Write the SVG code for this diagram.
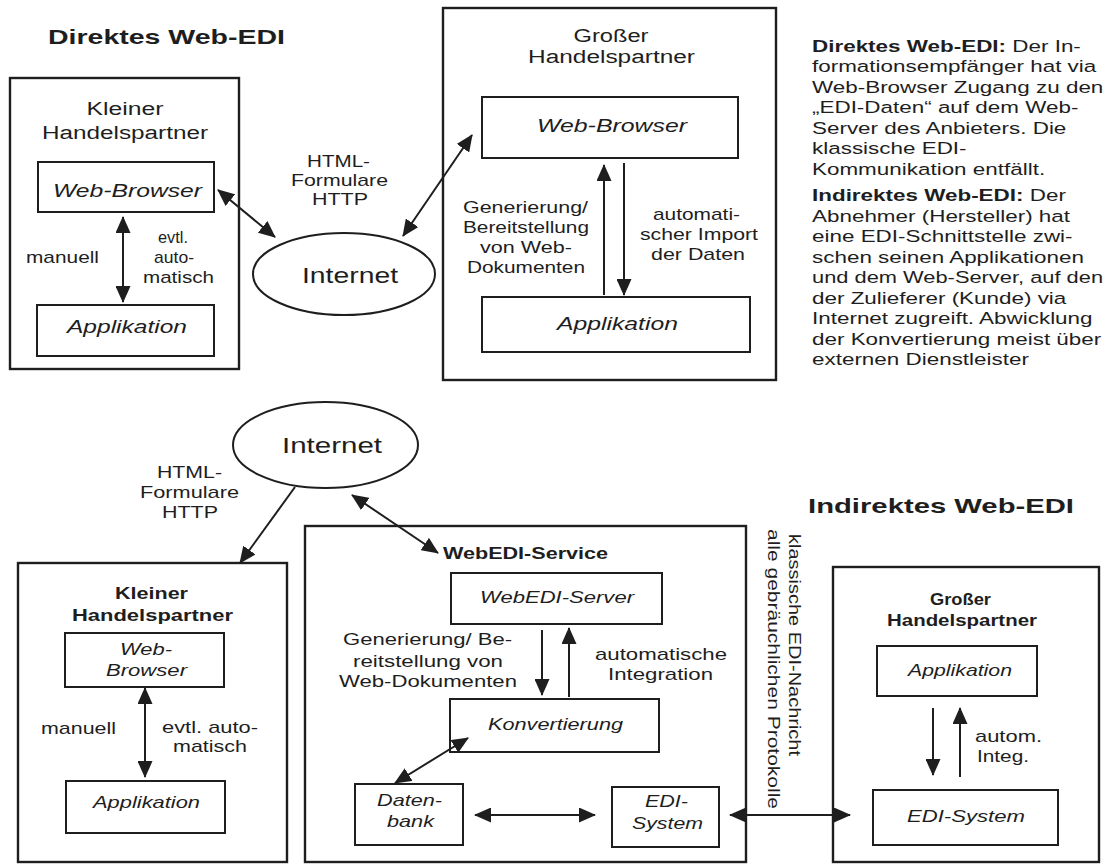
<svg xmlns="http://www.w3.org/2000/svg" width="1110" height="865" viewBox="0 0 1110 865">
  <defs>
    <style>
      text{font-family:"Liberation Sans",Arial,Helvetica,sans-serif;fill:#1e1e1e}
      .b{font-weight:bold}
      .i{font-style:italic}
      .m{text-anchor:middle}
      .f16{font-size:16.5px}
      .f17{font-size:17px}
      .f18{font-size:18px}
      .f21{font-size:21px}
      .f22{font-size:22px}
      .box{fill:none;stroke:#1e1e1e;stroke-width:2}
      .frame{fill:none;stroke:#1e1e1e;stroke-width:2.4}
      .ell{fill:#fff;stroke:#1e1e1e;stroke-width:2}
      .con{fill:none;stroke:#1e1e1e;stroke-width:2}
      .two{marker-start:url(#ah);marker-end:url(#ah)}
      .one{marker-end:url(#ah)}
    </style>
    <marker id="ah" viewBox="0 0 17 15" refX="16" refY="7.5" markerWidth="17" markerHeight="15" markerUnits="userSpaceOnUse" orient="auto-start-reverse">
      <path d="M0,0 L17,7.5 L0,15 z" fill="#1e1e1e"/>
    </marker>
  </defs>

  <rect x="0" y="0" width="1110" height="865" fill="#fff"/>

  <!-- ===== Direct Web-EDI ===== -->
  <g id="title-direct">
    <text x="48" y="44" class="b f21" textLength="237" lengthAdjust="spacingAndGlyphs">Direktes Web-EDI</text>
  </g>

  <g id="direct-small-partner">
    <rect class="frame" x="10" y="78" width="229" height="291"/>
    <text x="125" y="115" class="m f18" textLength="77" lengthAdjust="spacingAndGlyphs">Kleiner</text>
    <text x="125" y="139" class="m f18" textLength="166" lengthAdjust="spacingAndGlyphs">Handelspartner</text>
  </g>
  <g id="direct-small-browser">
    <rect class="box" x="38" y="162" width="176" height="50"/>
    <text x="127.5" y="197" class="m i f18" textLength="149" lengthAdjust="spacingAndGlyphs">Web-Browser</text>
  </g>
  <g id="direct-small-app">
    <rect class="box" x="37" y="305" width="177" height="51"/>
    <text x="127" y="333" class="m i f18" textLength="120" lengthAdjust="spacingAndGlyphs">Applikation</text>
  </g>

  <g id="direct-internet">
    <ellipse class="ell" cx="344" cy="274" rx="91" ry="41"/>
    <text x="350" y="283" class="m f22" textLength="96" lengthAdjust="spacingAndGlyphs">Internet</text>
  </g>

  <g id="direct-large-partner">
    <rect class="frame" x="443" y="8" width="333" height="372"/>
    <text x="611" y="42" class="m f18" textLength="75" lengthAdjust="spacingAndGlyphs">Großer</text>
    <text x="611.5" y="63" class="m f18" textLength="167" lengthAdjust="spacingAndGlyphs">Handelspartner</text>
  </g>
  <g id="direct-large-browser">
    <rect class="box" x="482" y="97" width="256" height="61"/>
    <text x="612" y="132" class="m i f18" textLength="150" lengthAdjust="spacingAndGlyphs">Web-Browser</text>
  </g>
  <g id="direct-large-app">
    <rect class="box" x="482" y="297" width="268" height="55"/>
    <text x="617.5" y="330" class="m i f18" textLength="121" lengthAdjust="spacingAndGlyphs">Applikation</text>
  </g>

  <!-- explanatory notes: Arial metrics widened uniformly -->
  <g id="notes" class="f16" transform="translate(812,0) scale(1.36,1)">
    <text x="0" y="52"><tspan class="b">Direktes Web-EDI:</tspan> Der In-</text>
    <text x="0" y="72.5">formationsempfänger hat via</text>
    <text x="0" y="93">Web-Browser Zugang zu den</text>
    <text x="0" y="113.5">„EDI-Daten“ auf dem Web-</text>
    <text x="0" y="134">Server des Anbieters. Die</text>
    <text x="0" y="154.5">klassische EDI-</text>
    <text x="0" y="175">Kommunikation entfällt.</text>
    <text x="0" y="201.5"><tspan class="b">Indirektes Web-EDI:</tspan> Der</text>
    <text x="0" y="222">Abnehmer (Hersteller) hat</text>
    <text x="0" y="242.5">eine EDI-Schnittstelle zwi-</text>
    <text x="0" y="263">schen seinen Applikationen</text>
    <text x="0" y="283.5" textLength="214" lengthAdjust="spacingAndGlyphs">und dem Web-Server, auf den</text>
    <text x="0" y="304">der Zulieferer (Kunde) via</text>
    <text x="0" y="324.5">Internet zugreift. Abwicklung</text>
    <text x="0" y="345">der Konvertierung meist über</text>
    <text x="0" y="365.5">externen Dienstleister</text>
  </g>

  <!-- ===== Indirect Web-EDI ===== -->
  <g id="title-indirect">
    <text x="808" y="513" class="b f21" textLength="266" lengthAdjust="spacingAndGlyphs">Indirektes Web-EDI</text>
  </g>

  <g id="indirect-internet">
    <ellipse class="ell" cx="325.5" cy="445" rx="92.5" ry="43"/>
    <text x="332" y="453" class="m f22" textLength="100" lengthAdjust="spacingAndGlyphs">Internet</text>
  </g>

  <g id="indirect-small-partner">
    <rect class="frame" x="18" y="563" width="269" height="299"/>
    <text x="151.5" y="599" class="m b f17" textLength="73" lengthAdjust="spacingAndGlyphs">Kleiner</text>
    <text x="152.5" y="621" class="m b f17" textLength="161" lengthAdjust="spacingAndGlyphs">Handelspartner</text>
  </g>
  <g id="indirect-small-browser">
    <rect class="box" x="65" y="633" width="159" height="54"/>
    <text x="146" y="655" class="m i f17" textLength="52" lengthAdjust="spacingAndGlyphs">Web-</text>
    <text x="146.5" y="676" class="m i f17" textLength="81" lengthAdjust="spacingAndGlyphs">Browser</text>
  </g>
  <g id="indirect-small-app">
    <rect class="box" x="66" y="781" width="159" height="52"/>
    <text x="146.5" y="808" class="m i f17" textLength="107" lengthAdjust="spacingAndGlyphs">Applikation</text>
  </g>

  <g id="webedi-service">
    <rect class="frame" x="305" y="526" width="441" height="336"/>
    <text x="443" y="559" class="b f17" textLength="165" lengthAdjust="spacingAndGlyphs">WebEDI-Service</text>
  </g>
  <g id="webedi-server">
    <rect class="box" x="451" y="573" width="211" height="51"/>
    <text x="557" y="603" class="m i f17" textLength="154" lengthAdjust="spacingAndGlyphs">WebEDI-Server</text>
  </g>
  <g id="konvertierung">
    <rect class="box" x="450" y="699" width="209" height="53"/>
    <text x="555.5" y="730" class="m i f17" textLength="135" lengthAdjust="spacingAndGlyphs">Konvertierung</text>
  </g>
  <g id="datenbank">
    <rect class="box" x="355" y="784" width="108" height="61"/>
    <text x="409.5" y="806" class="m i f17" textLength="65" lengthAdjust="spacingAndGlyphs">Daten-</text>
    <text x="410.5" y="827" class="m i f17" textLength="47" lengthAdjust="spacingAndGlyphs">bank</text>
  </g>
  <g id="service-edi-system">
    <rect class="box" x="612" y="787" width="107" height="60"/>
    <text x="666.5" y="807" class="m i f17" textLength="43" lengthAdjust="spacingAndGlyphs">EDI-</text>
    <text x="667.5" y="829" class="m i f17" textLength="71" lengthAdjust="spacingAndGlyphs">System</text>
  </g>

  <g id="indirect-large-partner">
    <rect class="frame" x="833" y="567" width="266" height="295"/>
    <text x="960.5" y="605" class="m b f17" textLength="61" lengthAdjust="spacingAndGlyphs">Großer</text>
    <text x="962" y="626" class="m b f17" textLength="150" lengthAdjust="spacingAndGlyphs">Handelspartner</text>
  </g>
  <g id="indirect-large-app">
    <rect class="box" x="877" y="646" width="160" height="50"/>
    <text x="960" y="676" class="m i f17" textLength="104" lengthAdjust="spacingAndGlyphs">Applikation</text>
  </g>
  <g id="indirect-large-edi-system">
    <rect class="box" x="873" y="790" width="185" height="55"/>
    <text x="966" y="822" class="m i f17" textLength="118" lengthAdjust="spacingAndGlyphs">EDI-System</text>
  </g>

  <!-- ===== connectors ===== -->
  <g id="connectors">
    <!-- direct -->
    <line class="con two" x1="123" y1="217" x2="123" y2="302"/>
    <line class="con two" x1="218" y1="190" x2="275" y2="237"/>
    <line class="con two" x1="472" y1="135" x2="403" y2="236"/>
    <line class="con one" x1="604" y1="295" x2="604" y2="165"/>
    <line class="con one" x1="624" y1="163" x2="624" y2="295"/>
    <!-- indirect -->
    <line class="con one" x1="295" y1="487" x2="240" y2="563"/>
    <line class="con two" x1="145" y1="688" x2="145" y2="777"/>
    <line class="con two" x1="352" y1="495" x2="438" y2="553"/>
    <line class="con one" x1="542" y1="630" x2="542" y2="695"/>
    <line class="con one" x1="569" y1="697" x2="569" y2="628"/>
    <line class="con two" x1="468" y1="738" x2="395" y2="783"/>
    <line class="con two" x1="475" y1="815" x2="595" y2="815"/>
    <line class="con two" x1="730" y1="815" x2="850" y2="815"/>
    <line class="con one" x1="933" y1="708" x2="933" y2="775"/>
    <line class="con one" x1="960" y1="777" x2="960" y2="708"/>
  </g>

  <!-- ===== connector labels ===== -->
  <g id="edge-labels">
    <text x="26" y="263" class="f17" textLength="73" lengthAdjust="spacingAndGlyphs">manuell</text>
    <text x="173" y="243" class="m f17" textLength="30" lengthAdjust="spacingAndGlyphs">evtl.</text>
    <text x="174" y="263" class="m f17" textLength="40" lengthAdjust="spacingAndGlyphs">auto-</text>
    <text x="178.5" y="283" class="m f17" textLength="71" lengthAdjust="spacingAndGlyphs">matisch</text>

    <text x="338.5" y="167" class="m f17" textLength="63" lengthAdjust="spacingAndGlyphs">HTML-</text>
    <text x="339.5" y="186" class="m f17" textLength="97" lengthAdjust="spacingAndGlyphs">Formulare</text>
    <text x="340" y="205" class="m f17" textLength="56" lengthAdjust="spacingAndGlyphs">HTTP</text>

    <text x="525.5" y="213" class="m f17" textLength="125" lengthAdjust="spacingAndGlyphs">Generierung/</text>
    <text x="526" y="233" class="m f17" textLength="126" lengthAdjust="spacingAndGlyphs">Bereitstellung</text>
    <text x="526" y="253" class="m f17" textLength="92" lengthAdjust="spacingAndGlyphs">von Web-</text>
    <text x="526" y="273" class="m f17" textLength="118" lengthAdjust="spacingAndGlyphs">Dokumenten</text>

    <text x="696.5" y="220" class="m f17" textLength="87" lengthAdjust="spacingAndGlyphs">automati-</text>
    <text x="699" y="240" class="m f17" textLength="118" lengthAdjust="spacingAndGlyphs">scher Import</text>
    <text x="698" y="260" class="m f17" textLength="94" lengthAdjust="spacingAndGlyphs">der Daten</text>

    <text x="189.5" y="478" class="m f17" textLength="65" lengthAdjust="spacingAndGlyphs">HTML-</text>
    <text x="189.5" y="498" class="m f17" textLength="99" lengthAdjust="spacingAndGlyphs">Formulare</text>
    <text x="190" y="518" class="m f17" textLength="56" lengthAdjust="spacingAndGlyphs">HTTP</text>

    <text x="41" y="734" class="f17" textLength="75" lengthAdjust="spacingAndGlyphs">manuell</text>
    <text x="210" y="733" class="m f17" textLength="96" lengthAdjust="spacingAndGlyphs">evtl. auto-</text>
    <text x="210" y="752" class="m f17" textLength="74" lengthAdjust="spacingAndGlyphs">matisch</text>

    <text x="427.5" y="645" class="m f17" textLength="169" lengthAdjust="spacingAndGlyphs">Generierung/ Be-</text>
    <text x="428" y="667" class="m f17" textLength="150" lengthAdjust="spacingAndGlyphs">reitstellung von</text>
    <text x="428" y="687" class="m f17" textLength="178" lengthAdjust="spacingAndGlyphs">Web-Dokumenten</text>

    <text x="661" y="660" class="m f17" textLength="132" lengthAdjust="spacingAndGlyphs">automatische</text>
    <text x="660.5" y="680" class="m f17" textLength="105" lengthAdjust="spacingAndGlyphs">Integration</text>

    <text x="975" y="742" class="f17" textLength="67" lengthAdjust="spacingAndGlyphs">autom.</text>
    <text x="977" y="762" class="f17" textLength="52" lengthAdjust="spacingAndGlyphs">Integ.</text>

    <text transform="translate(789,534) rotate(90)" class="f17" textLength="222" lengthAdjust="spacingAndGlyphs">klassische EDI-Nachricht</text>
    <text transform="translate(768,529) rotate(90)" class="f17" textLength="280" lengthAdjust="spacingAndGlyphs">alle gebräuchlichen Protokolle</text>
  </g>
</svg>
